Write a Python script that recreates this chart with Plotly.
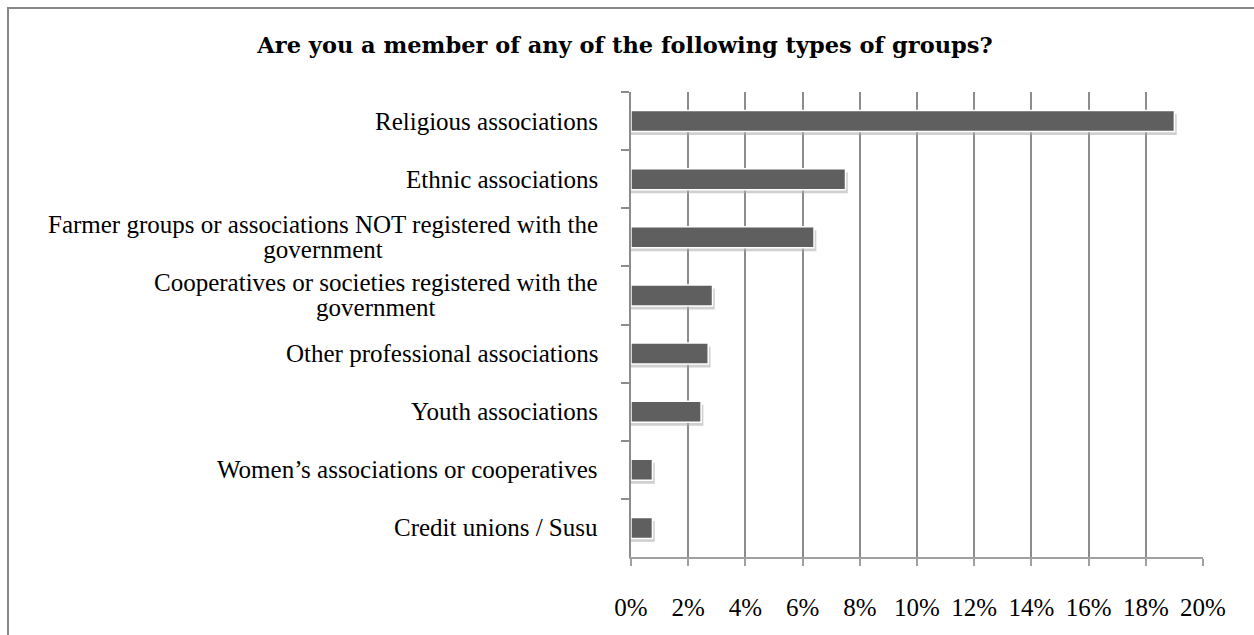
import plotly.graph_objects as go

title = "Are you a member of any of the following types of groups?"
categories = [
    "Religious associations",
    "Ethnic associations",
    "Farmer groups or associations NOT registered with the<br>government",
    "Cooperatives or societies registered with the<br>government",
    "Other professional associations",
    "Youth associations",
    "Women\u2019s associations or cooperatives",
    "Credit unions / Susu",
]
values = [19.0, 7.5, 6.4, 2.85, 2.7, 2.45, 0.75, 0.75]
tick_vals = [0, 2, 4, 6, 8, 10, 12, 14, 16, 18, 20]
tick_text = [f"{v}%" for v in tick_vals]

FONT = "Liberation Serif"
TITLE_FONT = "DejaVu Serif"
BAR_W = 0.36

fig = go.Figure()
# soft drop shadow
fig.add_trace(go.Bar(
    y=categories, x=[v + 0.08 for v in values], orientation="h",
    width=BAR_W, offset=-BAR_W / 2 + 0.06,
    marker=dict(color="rgba(170,170,170,0.55)", line=dict(width=0)),
    hoverinfo="skip", showlegend=False,
))
fig.add_trace(go.Bar(
    y=categories, x=values, orientation="h",
    width=BAR_W, offset=-BAR_W / 2,
    marker=dict(color="#5f5f5f", line=dict(color="white", width=1.5)),
    showlegend=False,
))

# category labels: base font 19px gives ~25px line spacing, glyphs drawn at 25px
for c in categories:
    styled = "<br>".join(f'<span style="font-size:25px">{ln}</span>' for ln in c.split("<br>"))
    fig.add_annotation(
        x=0, xref="paper", y=c, yref="y", text=styled, showarrow=False,
        xanchor="right", yanchor="middle", align="center", xshift=-31,
        font=dict(family=FONT, size=19, color="black"),
    )

fig.update_layout(
    width=1254, height=635,
    margin=dict(l=631, r=51, t=92, b=78),
    plot_bgcolor="white", paper_bgcolor="white",
    barmode="overlay",
    title=dict(text=f"<b>{title}</b>", x=625 / 1254, xref="container", xanchor="center",
               y=1 - 45 / 635, yref="container", yanchor="middle",
               font=dict(family=TITLE_FONT, size=22.5, color="black")),
    font=dict(family=FONT, size=25, color="black"),
)

fig.update_xaxes(
    range=[0, 20], tickvals=tick_vals, ticktext=tick_text,
    showgrid=True, gridcolor="#8c8c8c", gridwidth=1.5,
    showline=True, linecolor="#a0a0a0", linewidth=1.5,
    ticks="outside", ticklen=7, tickcolor="#a0a0a0", tickwidth=1.5,
    ticklabelstandoff=20, zeroline=False,
    tickfont=dict(family=FONT, size=25, color="black"),
)
fig.update_yaxes(
    autorange="reversed", showticklabels=False,
    showline=True, linecolor="#8c8c8c", linewidth=1.5,
    ticks="outside", ticklen=8, tickcolor="#8c8c8c", tickwidth=1.5,
    tickson="boundaries", showgrid=False,
)

# outer frame of the chart area
fig.add_shape(type="rect", xref="paper", yref="paper",
              x0=(8 - 631) / 572, x1=(1262 - 631) / 572,
              y0=(557 - 645) / 465, y1=1 + (92 - 8) / 465,
              line=dict(color="#888888", width=2), fillcolor="rgba(0,0,0,0)",
              layer="below")

fig.write_html("out.html", config={"displayModeBar": False},
               post_script="document.body.style.margin='0';document.body.style.overflow='hidden';")
